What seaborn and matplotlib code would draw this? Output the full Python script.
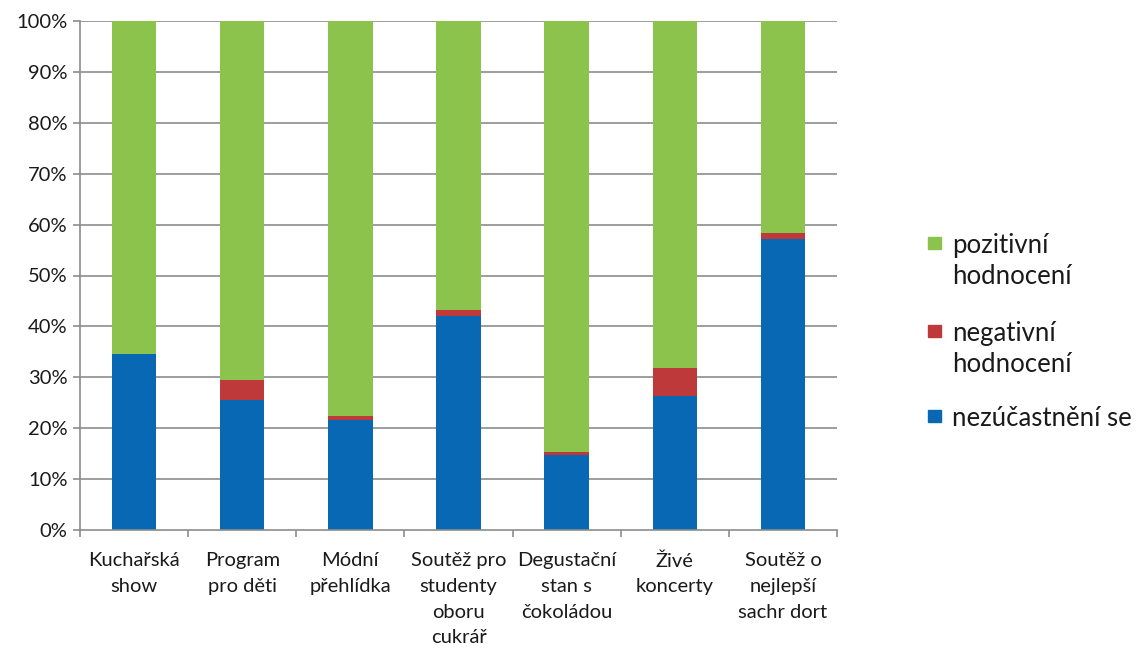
import matplotlib
matplotlib.use("Agg")
import matplotlib.pyplot as plt
import matplotlib.patches as mpatches
import seaborn as sns
import pandas as pd
import numpy as np

categories = ["Kuchařská\nshow", "Program\npro děti", "Módní\npřehlídka",
              "Soutěž pro\nstudenty\noboru\ncukrář", "Degustační\nstan s\nčokoládou",
              "Živé\nkoncerty", "Soutěž o\nnejlepší\nsachr dort"]
nezucastneni = [34.5, 25.6, 21.7, 42.0, 14.8, 26.4, 57.1]
negativni = [0.0, 3.8, 0.6, 1.3, 0.5, 5.4, 1.3]
pozitivni = [100 - a - b for a, b in zip(nezucastneni, negativni)]

legend_lines = [["pozitivní", "hodnocení"], ["negativní", "hodnocení"], ["nezúčastnění se"]]
colors = {"blue": "#0868B4", "red": "#BE3A3A", "green": "#8CC34C"}

sns.set_theme(style="white")
plt.rcParams['font.family'] = ['Lato', 'DejaVu Sans']

df = pd.DataFrame({
    "cat": categories,
    "blue": nezucastneni,
    "red": negativni,
    "green": pozitivni,
})
df["cum_red"] = df["blue"] + df["red"]
df["cum_green"] = df["cum_red"] + df["green"]

W, H = 1136, 649
fig = plt.figure(figsize=(W/100, H/100), dpi=100)
ax = fig.add_axes([80/W, 1-530/H, (837-80)/W, (530-21)/H])

grid_c = "#8C8C8C"
for v in range(10, 101, 10):
    ax.axhline(v, color=grid_c, lw=1.2, zorder=0)

w = 0.41
sns.barplot(data=df, x="cat", y="cum_green", color=colors["green"], width=w,
            saturation=1, ax=ax, zorder=2, linewidth=0)
sns.barplot(data=df, x="cat", y="cum_red", color=colors["red"], width=w,
            saturation=1, ax=ax, zorder=3, linewidth=0)
sns.barplot(data=df, x="cat", y="blue", color=colors["blue"], width=w,
            saturation=1, ax=ax, zorder=4, linewidth=0)

txt_c = "#1a1a1a"
ax.set_xlim(-0.5, len(categories) - 0.5)
ax.set_ylim(0, 100)
ax.set_xlabel("")
ax.set_ylabel("")
ax.set_yticks(range(0, 101, 10))
ax.set_yticklabels([f"{v}%" for v in range(0, 101, 10)], fontsize=14.5, color=txt_c)
ax.set_xticks(range(len(categories)))
ax.set_xticklabels(categories, fontsize=14.5, color=txt_c, linespacing=1.62, va="top")
ax.set_xticks(np.arange(-0.5, len(categories), 1), minor=True)
ax.tick_params(axis="x", which="major", length=0, pad=16)
ax.tick_params(axis="x", which="minor", length=5, width=1.2, color=grid_c, direction="out", bottom=True)
ax.tick_params(axis="y", which="major", length=5, width=1.2, color=grid_c, direction="out", left=True, pad=4)

for s in ["top", "right"]:
    ax.spines[s].set_visible(False)
for s in ["left", "bottom"]:
    ax.spines[s].set_color(grid_c)
    ax.spines[s].set_linewidth(1.2)
    ax.spines[s].set_zorder(5)

# legend (drawn manually so the marker sits on the first line, like the reference)
leg_colors = [colors["green"], colors["red"], colors["blue"]]
first_line_y = [243, 331, 416]
line_gap = 31
for col, lines, y0 in zip(leg_colors, legend_lines, first_line_y):
    fig.patches.append(mpatches.Rectangle((928/W, 1-(y0+6)/H), 13/W, 12/H,
                                          transform=fig.transFigure, color=col, figure=fig))
    for i, t in enumerate(lines):
        fig.text(952/W, 1-(y0 + i*line_gap)/H, t, fontsize=18.5, color=txt_c,
                 ha="left", va="center_baseline")

fig.savefig("out.png", dpi=100, facecolor="white")
